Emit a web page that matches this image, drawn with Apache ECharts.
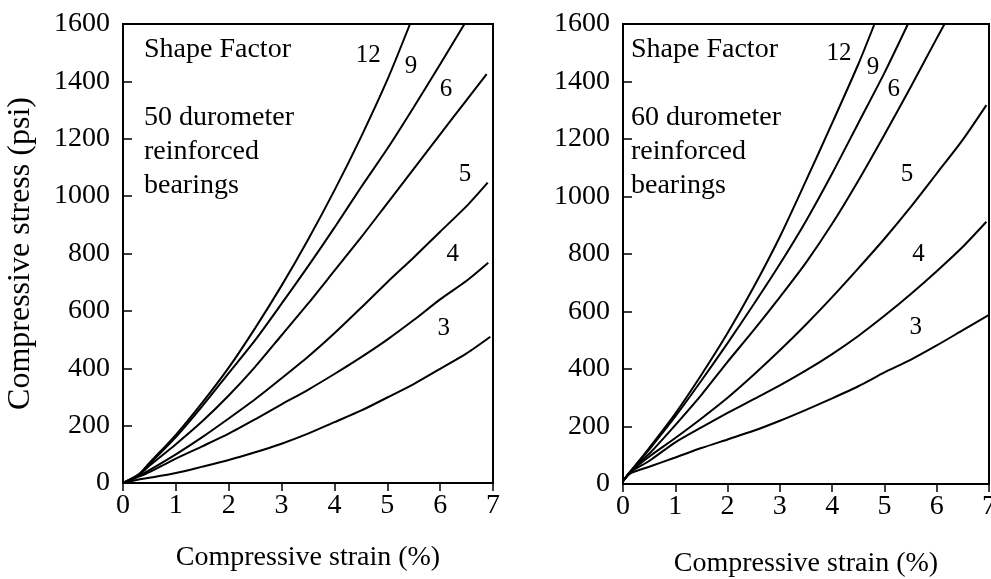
<!DOCTYPE html>
<html>
<head>
<meta charset="utf-8">
<title>Compressive stress vs strain</title>
<script src="https://cdn.jsdelivr.net/npm/echarts@6/dist/echarts.min.js"></script>
<style>
  html, body { margin: 0; padding: 0; background: #fff; }
  #chart { width: 991px; height: 579px; }
</style>
</head>
<body>
<div id="chart"></div>
<script>
// shape factors, in the order the curves are labelled
var shapeFactors = ['12', '9', '6', '5', '4', '3'];

// 50 durometer: [strain %, stress psi]
var d50_12 = [[0,0],[0.3,30],[0.5,70],[1,168],[1.5,280],[2,402],[2.5,540],[3,688],[3.5,848],[4,1020],[4.5,1205],[5,1405],[5.43,1600]];
var d50_9  = [[0,0],[0.3,30],[0.5,66],[1,160],[1.5,268],[2,383],[2.5,498],[3,625],[3.5,755],[4,890],[4.5,1030],[5,1165],[5.5,1310],[6,1460],[6.46,1600]];
var d50_6  = [[0,0],[0.3,28],[0.5,60],[1,135],[1.5,215],[2,305],[2.5,405],[3,515],[3.5,625],[4,740],[4.5,855],[5,975],[5.5,1095],[6,1215],[6.5,1335],[6.88,1425]];
var d50_5  = [[0,0],[0.3,25],[0.5,45],[1,100],[1.5,160],[2,225],[2.5,292],[3,365],[3.5,440],[4,522],[4.5,610],[5,700],[5.5,786],[6,876],[6.5,965],[6.9,1047]];
var d50_4  = [[0,0],[0.3,22],[0.5,38],[1,85],[1.5,128],[2,172],[2.5,222],[3,274],[3.5,325],[4,380],[4.5,438],[5,500],[5.5,568],[6,640],[6.5,705],[6.91,768]];
var d50_3  = [[0,0],[0.3,12],[0.5,18],[1,35],[1.5,57],[2,80],[2.5,107],[3,137],[3.5,172],[4,212],[4.5,252],[5,298],[5.5,345],[6,398],[6.5,452],[6.95,510]];

// 60 durometer
var d60_12 = [[0,10],[0.15,45],[0.5,125],[1,245],[1.5,380],[2,525],[2.5,685],[3,860],[3.5,1055],[4,1255],[4.5,1460],[4.81,1600]];
var d60_9  = [[0,10],[0.15,45],[0.5,120],[1,235],[1.5,360],[2,490],[2.5,625],[3,765],[3.5,915],[4,1080],[4.5,1255],[5,1430],[5.45,1600]];
var d60_6  = [[0,10],[0.15,45],[0.5,105],[1,205],[1.5,310],[2,425],[2.5,535],[3,650],[3.5,770],[4,905],[4.5,1055],[5,1215],[5.5,1380],[6,1550],[6.15,1600]];
var d60_5  = [[0,10],[0.15,44],[0.5,95],[1,160],[1.5,228],[2,300],[2.5,380],[3,465],[3.5,555],[4,650],[4.5,750],[5,853],[5.5,963],[6,1080],[6.5,1198],[6.95,1318]];
var d60_4  = [[0,10],[0.15,42],[0.5,80],[1,145],[1.5,197],[2,247],[2.5,295],[3,343],[3.5,395],[4,452],[4.5,515],[5,585],[5.5,660],[6,740],[6.5,825],[6.95,912]];
var d60_3  = [[0,10],[0.15,38],[0.5,60],[1,92],[1.5,125],[2,155],[2.5,185],[3,220],[3.5,258],[4,298],[4.5,340],[5,388],[5.5,432],[6,482],[6.5,535],[7,588]];

// where the shape factor labels sit (data units)
var lab50X = [4.64, 5.45, 6.11, 6.47, 6.24, 6.07];
var lab50Y = [1492, 1453, 1373, 1077, 795, 540];
var lab60X = [4.13, 4.78, 5.18, 5.43, 5.65, 5.60];
var lab60Y = [1499, 1450, 1374, 1078, 797, 543];

var FONT = '"Liberation Serif", "Times New Roman", serif';

var chart = echarts.init(document.getElementById('chart'));

function xAxisFor(idx, gap) {
    return {
        type: 'value', gridIndex: idx, min: 0, max: 7, interval: 1,
        name: 'Compressive strain (%)', nameLocation: 'middle', nameGap: gap,
        nameTextStyle: { fontFamily: FONT, fontSize: 28, color: '#000' },
        axisLine: { show: true, lineStyle: { color: '#000', width: 2 } },
        axisTick: { show: true, inside: false, length: 8, lineStyle: { color: '#000', width: 1.5 } },
        axisLabel: { fontFamily: FONT, fontSize: 28, color: '#000', margin: 9 },
        splitLine: { show: false }
    };
}
function yAxisFor(idx, withName) {
    return {
        type: 'value', gridIndex: idx, min: 0, max: 1600, interval: 200,
        name: withName ? 'Compressive stress (psi)' : '', nameLocation: 'middle', nameGap: 86,
        nameTextStyle: { fontFamily: FONT, fontSize: 32, color: '#000' },
        axisLine: { show: true, lineStyle: { color: '#000', width: 2 } },
        axisTick: { show: true, inside: true, length: 9, lineStyle: { color: '#000', width: 1.5 } },
        axisLabel: { fontFamily: FONT, fontSize: 28, color: '#000', margin: 13,
                     formatter: function (v) { return String(v); } },
        splitLine: { show: false }
    };
}

function curve(data, idx) {
    return {
        type: 'line', xAxisIndex: idx, yAxisIndex: idx, data: data,
        smooth: 0.25, showSymbol: false, symbol: 'none', silent: true,
        lineStyle: { color: '#000', width: 2 }, z: 3
    };
}
function labels(xs, ys, idx) {
    var pts = xs.map(function (x, i) { return [x, ys[i], shapeFactors[i]]; });
    return {
        type: 'scatter', xAxisIndex: idx, yAxisIndex: idx, data: pts,
        symbolSize: 1, itemStyle: { color: 'rgba(0,0,0,0)', opacity: 1 }, silent: true,
        label: {
            show: true, position: 'inside', formatter: function (p) { return p.data[2]; },
            fontFamily: FONT, fontSize: 25, color: '#000', opacity: 1
        }
    };
}

var option = {
    backgroundColor: '#fff',
    animation: false,
    grid: [
        { left: 123, top: 24, width: 370, height: 459, show: true, borderColor: '#000', borderWidth: 2,
          containLabel: false, outerBoundsMode: 'none' },
        { left: 623, top: 24, width: 366, height: 460, show: true, borderColor: '#000', borderWidth: 2,
          containLabel: false, outerBoundsMode: 'none' }
    ],
    xAxis: [xAxisFor(0, 61), xAxisFor(1, 66)],
    yAxis: [yAxisFor(0, true), yAxisFor(1, false)],
    graphic: [
        {
            type: 'text', left: 144, top: 33,
            style: { text: 'Shape Factor\n\n50 durometer\nreinforced\nbearings', font: '28px ' + FONT, lineHeight: 34, fill: '#000' }
        },
        {
            type: 'text', left: 631, top: 33,
            style: { text: 'Shape Factor\n\n60 durometer\nreinforced\nbearings', font: '28px ' + FONT, lineHeight: 34, fill: '#000' }
        }
    ],
    series: [
        curve(d50_12, 0), curve(d50_9, 0), curve(d50_6, 0), curve(d50_5, 0), curve(d50_4, 0), curve(d50_3, 0),
        curve(d60_12, 1), curve(d60_9, 1), curve(d60_6, 1), curve(d60_5, 1), curve(d60_4, 1), curve(d60_3, 1),
        labels(lab50X, lab50Y, 0),
        labels(lab60X, lab60Y, 1)
    ]
};
chart.setOption(option);
</script>
</body>
</html>
